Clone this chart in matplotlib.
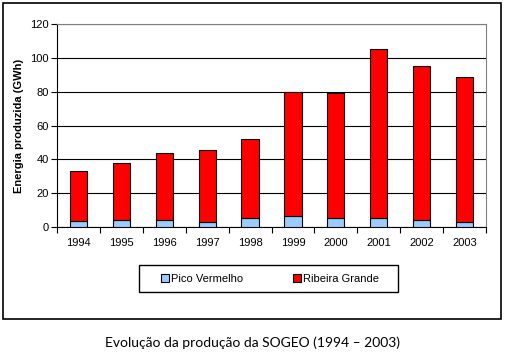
import numpy as np
import matplotlib.pyplot as plt
from matplotlib.patches import Rectangle, Patch

years = ['1994', '1995', '1996', '1997', '1998', '1999', '2000', '2001', '2002', '2003']
pico_vermelho = [3.8, 4.4, 4.4, 3.2, 5.5, 6.7, 5.5, 5.5, 4.4, 3.2]
totals = [33.2, 37.6, 43.5, 45.3, 51.8, 80.0, 79.5, 105.2, 95.2, 88.6]
ribeira_grande = [t - p for t, p in zip(totals, pico_vermelho)]

plt.rcParams['font.family'] = ['Liberation Sans', 'DejaVu Sans']

fig = plt.figure(figsize=(5.05, 3.53), dpi=100)
ax = fig.add_axes([57 / 505, 1 - 227 / 353, 429 / 505, 203 / 353])

x = np.arange(len(years))
ax.bar(x, pico_vermelho, width=0.4, color='#99ccff', edgecolor='black', linewidth=0.8, zorder=3)
ax.bar(x, ribeira_grande, width=0.4, bottom=pico_vermelho, color='#ff0000',
       edgecolor='black', linewidth=0.8, zorder=3)

ax.set_xlim(-0.5, len(years) - 0.5)
ax.set_ylim(0, 120)
ax.set_yticks(range(0, 121, 20))
ax.yaxis.grid(True, color='black', linewidth=0.8)
ax.set_axisbelow(True)

ax.set_xticks(x)
ax.set_xticklabels(years)
ax.set_xticks(np.arange(-0.5, len(years)), minor=True)
ax.tick_params(axis='x', which='major', length=0, pad=8, labelsize=8)
ax.tick_params(axis='x', which='minor', length=4, direction='out', width=0.8)
ax.tick_params(axis='y', length=4, width=0.8, labelsize=8, pad=2)

for side in ['top', 'right']:
    ax.spines[side].set_color('#808080')
for side in ['left', 'bottom']:
    ax.spines[side].set_color('black')
    ax.spines[side].set_linewidth(0.8)

ax.set_ylabel('Energia produzida (GWh)', fontsize=8, fontweight='bold', labelpad=4)

# legend box drawn separately so the entries can sit in its middle
fig.patches.append(Rectangle((139 / 505, 1 - 292 / 353), 259 / 505, 27 / 353,
                             transform=fig.transFigure, fill=False,
                             edgecolor='black', linewidth=1.0))
handles = [Patch(facecolor='#99ccff', edgecolor='black', linewidth=0.8),
           Patch(facecolor='#ff0000', edgecolor='black', linewidth=0.8)]
fig.legend(handles, ['Pico Vermelho', 'Ribeira Grande'], loc='center', ncol=2,
           bbox_to_anchor=(270 / 505, 1 - 278.5 / 353), frameon=False,
           fontsize=8, handlelength=0.7, handleheight=0.7, handletextpad=0.2,
           columnspacing=4.5)

fig.patches.append(Rectangle((3 / 505, 1 - 319 / 353), 498 / 505, 316 / 353,
                             transform=fig.transFigure, fill=False,
                             edgecolor='black', linewidth=1.2))

fig.text(0.5, 1 - 343 / 353, 'Evolução da produção da SOGEO (1994 – 2003)',
         ha='center', va='center', fontsize=10, family=['Lato', 'DejaVu Sans'])

fig.savefig('out.png', dpi=100)
